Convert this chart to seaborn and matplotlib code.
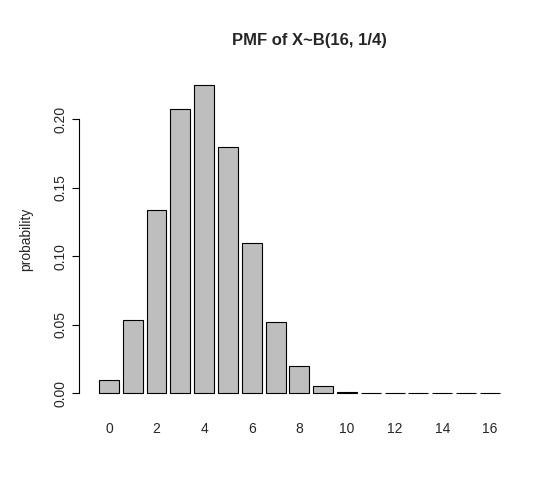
import numpy as np
import pandas as pd
import seaborn as sns
import matplotlib.pyplot as plt

# values
k_values = list(range(17))
probs = [0.0100, 0.0535, 0.1336, 0.2079, 0.2252, 0.1802, 0.1101, 0.0524,
         0.0197, 0.0058, 0.0014, 0.0002, 0.00003, 0.0, 0.0, 0.0, 0.0]
tick_labels = ["0", "2", "4", "6", "8", "10", "12", "14", "16"]

df = pd.DataFrame({"k": k_values, "p": probs})

sns.set_style("white")
plt.rcParams['font.family'] = ['Liberation Sans', 'DejaVu Sans']

fig = plt.figure(figsize=(5.57, 5.01), dpi=100)
ax = fig.add_axes([0.149, 0.19, 0.777, 0.665])

sns.barplot(data=df, x="k", y="p", color="#BEBEBE", edgecolor="black",
            linewidth=0.8, width=1 / 1.2, saturation=1, ax=ax)

ax.set_xlim(-1.09, 17.09)
ax.set_ylim(-0.009, 0.2342)
for s in ["top", "right", "bottom"]:
    ax.spines[s].set_visible(False)
ax.spines["left"].set_bounds(0, 0.20)
ax.spines["left"].set_color("black")
ax.spines["left"].set_position(("outward", 3))

yt = [0.00, 0.05, 0.10, 0.15, 0.20]
ax.set_yticks(yt)
ax.set_yticklabels([f"{v:.2f}" for v in yt], rotation=90, va="center", fontsize=10)
ax.tick_params(axis="y", length=5, color="black", left=True)

ax.set_xticks(range(0, 17, 2))
ax.set_xticklabels(tick_labels, fontsize=10)
ax.tick_params(axis="x", length=0, pad=12)

ax.set_xlabel("")
ax.set_ylabel("probability", fontsize=10, labelpad=14)
fig.text(0.555, 0.91, "PMF of X~B(16, 1/4)", ha="center", fontsize=12, fontweight="bold")

fig.savefig("out.png", dpi=100)
